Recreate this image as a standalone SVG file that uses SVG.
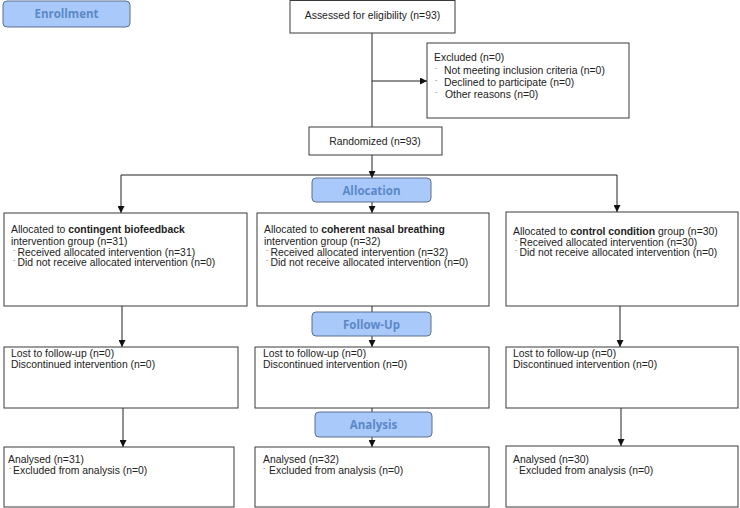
<svg xmlns="http://www.w3.org/2000/svg" width="740" height="508" viewBox="0 0 740 508">
<style>
.box{fill:#fff;stroke:#3a3a3a;stroke-width:1}
.ban{fill:#a9c9fa;stroke:#5c6f8e;stroke-width:1}
.bt{font-family:"Open Sans","Liberation Sans",sans-serif;font-weight:700;font-size:11.5px;fill:#5b88c8;text-anchor:middle}
.t{font-family:"Liberation Sans",Arial,sans-serif;font-size:10.4px;fill:#222}
.c{text-anchor:middle}
.b{font-weight:700}
.d{font-family:"Liberation Sans",Arial,sans-serif;font-size:7px;fill:#777}
.ln{fill:none;stroke:#222;stroke-width:1}
</style>
<defs>
<marker id="ah" viewBox="0 0 8 8" refX="8" refY="4" markerWidth="7" markerHeight="7" markerUnits="userSpaceOnUse" orient="auto">
<path d="M0,0L8,4L0,8z" fill="#111"/>
</marker>
</defs>
<g id="connectors">
<path class="ln" d="M372,33V127"/>
<path class="ln" d="M372,81H427" marker-end="url(#ah)"/>
<path class="ln" d="M372,155V175"/>
<path class="ln" d="M121,175H617"/>
<path class="ln" d="M121,175V213" marker-end="url(#ah)"/>
<path class="ln" d="M617,175V212" marker-end="url(#ah)"/>
<path class="ln" d="M372,175V178" marker-end="url(#ah)"/>
<path class="ln" d="M372,202V213" marker-end="url(#ah)"/>
<path class="ln" d="M122,306V347" marker-end="url(#ah)"/>
<path class="ln" d="M372,306V312"/>
<path class="ln" d="M372,336V347" marker-end="url(#ah)"/>
<path class="ln" d="M620,306V347" marker-end="url(#ah)"/>
<path class="ln" d="M123,408V447" marker-end="url(#ah)"/>
<path class="ln" d="M372,408V412"/>
<path class="ln" d="M372,437V447" marker-end="url(#ah)"/>
<path class="ln" d="M621,408V446" marker-end="url(#ah)"/>
</g>
<g id="enrollment">
<rect class="ban" x="3" y="1" width="127" height="26" rx="4"/>
<text class="bt" x="66.5" y="18">Enrollment</text>
</g>
<g id="assessed">
<rect class="box" x="290" y="0.5" width="165" height="32.5"/>
<text class="t c" x="372.5" y="18.5">Assessed for eligibility (n=93)</text>
</g>
<g id="excluded">
<rect class="box" x="427" y="43" width="202" height="75"/>
<text class="t" x="434" y="60.5">Excluded (n=0)</text>
<text class="d" x="435" y="70">-</text>
<text class="t" x="444" y="73.5">Not meeting inclusion criteria (n=0)</text>
<text class="d" x="435" y="82">-</text>
<text class="t" x="444" y="85.5">Declined to participate (n=0)</text>
<text class="d" x="435" y="94">-</text>
<text class="t" x="445" y="97.5">Other reasons (n=0)</text>
</g>
<g id="randomized">
<rect class="box" x="309" y="127" width="133" height="28"/>
<text class="t c" x="375" y="144.5">Randomized (n=93)</text>
</g>
<g id="allocation">
<rect class="ban" x="312" y="178" width="119" height="24" rx="4"/>
<text class="bt" x="371.5" y="194.5">Allocation</text>
</g>
<g id="alloc-left">
<rect class="box" x="4" y="213" width="243" height="93"/>
<text class="t" x="11" y="232.5">Allocated to <tspan class="b">contingent biofeedback</tspan></text>
<text class="t" x="11" y="244.5">intervention group (n=31)</text>
<text class="d" x="13" y="252">-</text>
<text class="t" x="17.5" y="255.5">Received allocated intervention (n=31)</text>
<text class="d" x="13" y="262">-</text>
<text class="t" x="17.5" y="265.5">Did not receive allocated intervention (n=0)</text>
</g>
<g id="alloc-mid">
<rect class="box" x="257" y="213" width="232" height="93"/>
<text class="t" x="264" y="232.5">Allocated to <tspan class="b">coherent nasal breathing</tspan></text>
<text class="t" x="264" y="244.5">intervention group (n=32)</text>
<text class="d" x="266" y="252">-</text>
<text class="t" x="270.5" y="255.5">Received allocated intervention (n=32)</text>
<text class="d" x="266" y="262">-</text>
<text class="t" x="270.5" y="265.5">Did not receive allocated intervention (n=0)</text>
</g>
<g id="alloc-right">
<rect class="box" x="506" y="212" width="232" height="94"/>
<text class="t" x="513" y="234.5">Allocated to <tspan class="b">control condition</tspan> group (n=30)</text>
<text class="d" x="515" y="242">-</text>
<text class="t" x="519.5" y="245.5">Received allocated intervention (n=30)</text>
<text class="d" x="515" y="252">-</text>
<text class="t" x="519.5" y="255.5">Did not receive allocated intervention (n=0)</text>
</g>
<g id="followup">
<rect class="ban" x="312" y="312" width="119" height="24" rx="4"/>
<text class="bt" x="371.5" y="328.5">Follow-Up</text>
</g>
<g id="fu-left">
<rect class="box" x="4" y="347" width="234" height="61"/>
<text class="t" x="11" y="356.5">Lost to follow-up (n=0)</text>
<text class="t" x="11" y="367.5">Discontinued intervention (n=0)</text>
</g>
<g id="fu-mid">
<rect class="box" x="255" y="347" width="234" height="61"/>
<text class="t" x="263" y="356.5">Lost to follow-up (n=0)</text>
<text class="t" x="263" y="367.5">Discontinued intervention (n=0)</text>
</g>
<g id="fu-right">
<rect class="box" x="506" y="347" width="232" height="61"/>
<text class="t" x="513" y="356.5">Lost to follow-up (n=0)</text>
<text class="t" x="513" y="367.5">Discontinued intervention (n=0)</text>
</g>
<g id="analysis">
<rect class="ban" x="315" y="412" width="117" height="25" rx="4"/>
<text class="bt" x="373.5" y="429">Analysis</text>
</g>
<g id="an-left">
<rect class="box" x="4" y="447" width="230" height="60"/>
<text class="t" x="8" y="462.5">Analysed (n=31)</text>
<text class="d" x="9" y="470">-</text>
<text class="t" x="13" y="473.5">Excluded from analysis (n=0)</text>
</g>
<g id="an-mid">
<rect class="box" x="255" y="447" width="234" height="60"/>
<text class="t" x="263" y="462.5">Analysed (n=32)</text>
<text class="d" x="263" y="470">-</text>
<text class="t" x="269" y="473.5">Excluded from analysis (n=0)</text>
</g>
<g id="an-right">
<rect class="box" x="506" y="446" width="232" height="61"/>
<text class="t" x="513" y="462.5">Analysed (n=30)</text>
<text class="d" x="515" y="470">-</text>
<text class="t" x="519" y="473.5">Excluded from analysis (n=0)</text>
</g>
</svg>
